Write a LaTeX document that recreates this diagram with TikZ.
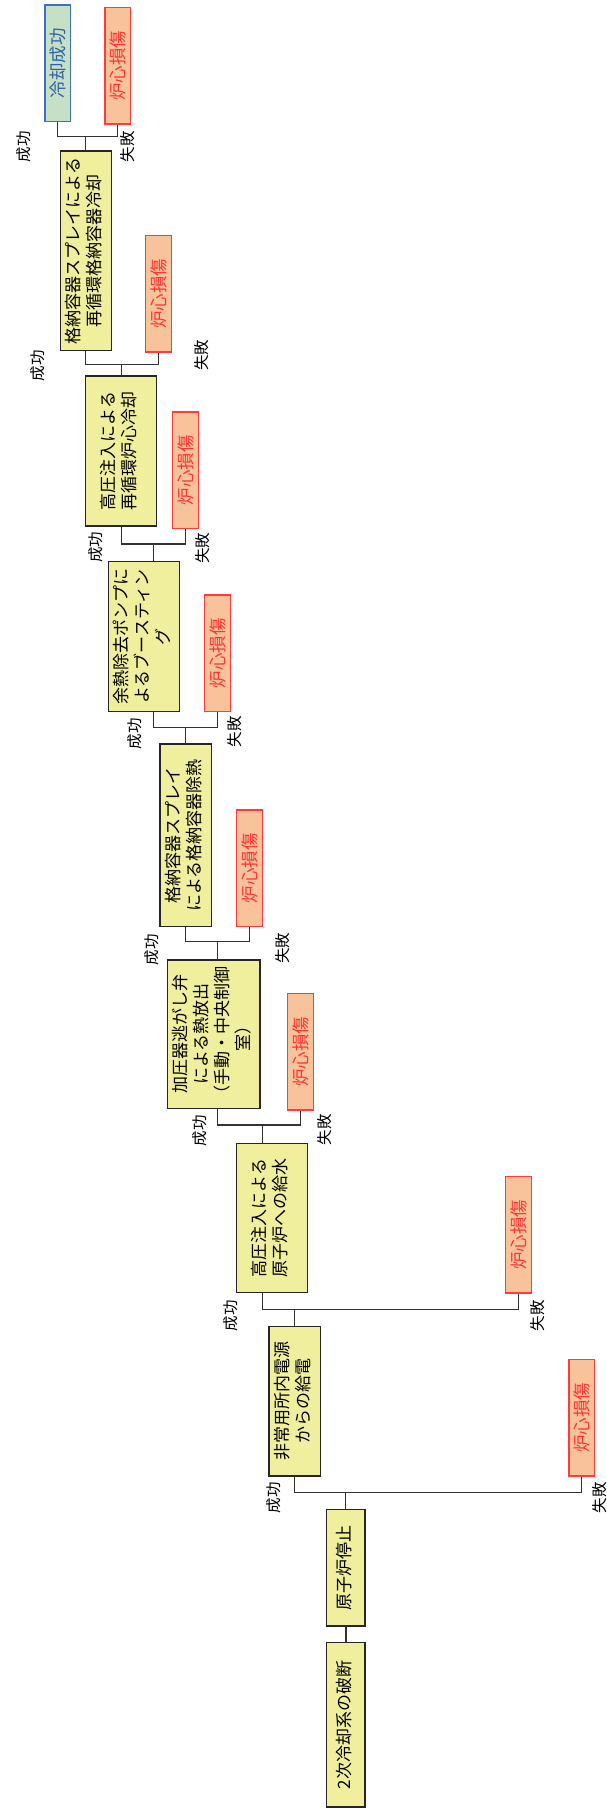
\documentclass[tikz,border=0pt]{standalone}
\usepackage{fontspec}
\setmainfont{Noto Sans CJK JP}
\usepackage{graphicx}
\definecolor{evfill}{HTML}{EFEF9E}
\definecolor{cdfill}{HTML}{F8C39B}
\definecolor{cdline}{HTML}{FF3B3B}
\definecolor{cdtext}{HTML}{FF3333}
\definecolor{okfill}{HTML}{C6E0C6}
\definecolor{okline}{HTML}{3F6FBF}
\definecolor{oktext}{HTML}{2F5FAF}
\definecolor{wire}{HTML}{333333}
\newcommand{\vt}[1]{\rotatebox{90}{\begin{tabular}{@{}c@{}}#1\end{tabular}}}
\begin{document}
\begin{tikzpicture}[x=1pt,y=-1pt,
  evbox/.style={draw=black!85,line width=1.3pt,fill=evfill,inner sep=0pt,
    font=\fontsize{17}{21}\selectfont},
  cdbox/.style={draw=cdline,line width=1.2pt,fill=cdfill,inner sep=0pt,
    minimum width=25.7pt,minimum height=116.7pt,text=cdtext,
    font=\fontsize{17.5}{21}\selectfont},
  okbox/.style={draw=okline,line width=1.2pt,fill=okfill,inner sep=0pt,
    minimum width=25.3pt,minimum height=116.7pt,text=oktext,
    font=\fontsize{17.5}{21}\selectfont},
  lbl/.style={inner sep=0pt,font=\fontsize{15.5}{17}\selectfont},
  wireline/.style={draw=wire,line width=1.3pt}]
\useasboundingbox (0,0) rectangle (607,1809);

% event boxes
\node[evbox,minimum width=38.3pt,minimum height=164.3pt] (b1) at (345.85,1724.85) {\vt{2次冷却系の破断}};
\node[evbox,minimum width=38.3pt,minimum height=116.7pt] (b2) at (345.85,1567.65) {\vt{原子炉停止}};
\node[evbox,minimum width=51.3pt,minimum height=149.3pt] (b3) at (294.65,1401.35) {\vt{非常用所内電源\\からの給電}};
\node[evbox,minimum width=70.6pt,minimum height=149.4pt] (b4) at (272,1218) {\vt{高圧注入による\\原子炉への給水}};
\node[evbox,minimum width=92.3pt,minimum height=148.3pt] (b5) at (213.85,1034.15) {\vt{加圧器逃がし弁\\による熱放出\\（手動・中央制御\\室）}};
\node[evbox,minimum width=51.3pt,minimum height=182.7pt] (b6) at (185.65,835.35) {\vt{格納容器スプレイ\\による格納容器除熱}};
\node[evbox,minimum width=70.6pt,minimum height=150pt] (b7) at (144,636.7) {\vt{余熱除去ポンプに\\よるブースティン\\グ}};
\node[evbox,minimum width=70.6pt,minimum height=150pt] (b8) at (121,451) {\vt{高圧注入による\\再循環炉心冷却}};
\node[evbox,minimum width=51pt,minimum height=199.7pt] (b9) at (85.8,250.85) {\vt{格納容器スプレイによる\\再循環格納容器冷却}};

% end states
\node[okbox] (s0) at (57.7,63.3) {\rotatebox{90}{冷却成功}};
\node[cdbox] (f1) at (117.8,65.7) {\rotatebox{90}{炉心損傷}};
\node[cdbox] (f2) at (158.7,293.7) {\rotatebox{90}{炉心損傷}};
\node[cdbox] (f3) at (185.7,470.3) {\rotatebox{90}{炉心損傷}};
\node[cdbox] (f4) at (217.7,653.3) {\rotatebox{90}{炉心損傷}};
\node[cdbox] (f5) at (249.5,868.3) {\rotatebox{90}{炉心損傷}};
\node[cdbox] (f6) at (300.5,1051.7) {\rotatebox{90}{炉心損傷}};
\node[cdbox] (f7) at (518.7,1234.7) {\rotatebox{90}{炉心損傷}};
\node[cdbox] (f8) at (581.8,1417.7) {\rotatebox{90}{炉心損傷}};

% junctions
\coordinate (j2) at (345.7,1492.7);
\coordinate (j3) at (294.5,1309.3);
\coordinate (j4) at (262.3,1125);
\coordinate (j5) at (217.5,941.7);
\coordinate (j6) at (185.7,727.3);
\coordinate (j7) at (153.7,544);
\coordinate (j8) at (121.7,364.3);
\coordinate (j9) at (85.7,136.7);

% connectors
\draw[wireline] (b1.north) -- (b2.south);
\draw[wireline] (b2.north -| j2) -- (j2);
\draw[wireline] (b3.south -| j3) -- (j2 -| j3) -- (j2 -| f8.south) -- (f8.south);
\draw[wireline] (b3.north -| j3) -- (j3);
\draw[wireline] (b4.south -| j4) -- (j3 -| j4) -- (j3 -| f7.south) -- (f7.south);
\draw[wireline] (b4.north -| j4) -- (j4);
\draw[wireline] (b5.south -| j5) -- (j4 -| j5) -- (j4 -| f6.south) -- (f6.south);
\draw[wireline] (b5.north -| j5) -- (j5);
\draw[wireline] (b6.south -| j6) -- (j5 -| j6) -- (j5 -| f5.south) -- (f5.south);
\draw[wireline] (b6.north -| j6) -- (j6);
\draw[wireline] (b7.south -| j7) -- (j6 -| j7) -- (j6 -| f4.south) -- (f4.south);
\draw[wireline] (b7.north -| j7) -- (j7);
\draw[wireline] (b8.south -| j8) -- (j7 -| j8) -- (j7 -| f3.south) -- (f3.south);
\draw[wireline] (b8.north -| j8) -- (j8);
\draw[wireline] (b9.south -| j9) -- (j8 -| j9) -- (j8 -| f2.south) -- (f2.south);
\draw[wireline] (b9.north -| j9) -- (j9);
\draw[wireline] (s0.south) -- (j9 -| s0.south) -- (j9 -| f1.south) -- (f1.south);

% labels
\node[lbl] (l9s) at (24,146.7) {\rotatebox{90}{成功}};
\node[lbl] (l9f) at (128,146.7) {\rotatebox{90}{失敗}};
\node[lbl] (l8s) at (37.5,365.5) {\rotatebox{90}{成功}};
\node[lbl] (l8f) at (202,355) {\rotatebox{90}{失敗}};
\node[lbl] (l7s) at (95.5,547) {\rotatebox{90}{成功}};
\node[lbl] (l7f) at (202.5,548) {\rotatebox{90}{失敗}};
\node[lbl] (l6s) at (135,733.5) {\rotatebox{90}{成功}};
\node[lbl] (l6f) at (234.5,731.5) {\rotatebox{90}{失敗}};
\node[lbl] (l5s) at (152,949.5) {\rotatebox{90}{成功}};
\node[lbl] (l5f) at (283,948) {\rotatebox{90}{失敗}};
\node[lbl] (l4s) at (200,1130.5) {\rotatebox{90}{成功}};
\node[lbl] (l4f) at (325,1129.5) {\rotatebox{90}{失敗}};
\node[lbl] (l3s) at (230.5,1315.5) {\rotatebox{90}{成功}};
\node[lbl] (l3f) at (538,1315.5) {\rotatebox{90}{失敗}};
\node[lbl] (l2s) at (274,1497.5) {\rotatebox{90}{成功}};
\node[lbl] (l2f) at (599.5,1497.5) {\rotatebox{90}{失敗}};
\end{tikzpicture}
\end{document}
